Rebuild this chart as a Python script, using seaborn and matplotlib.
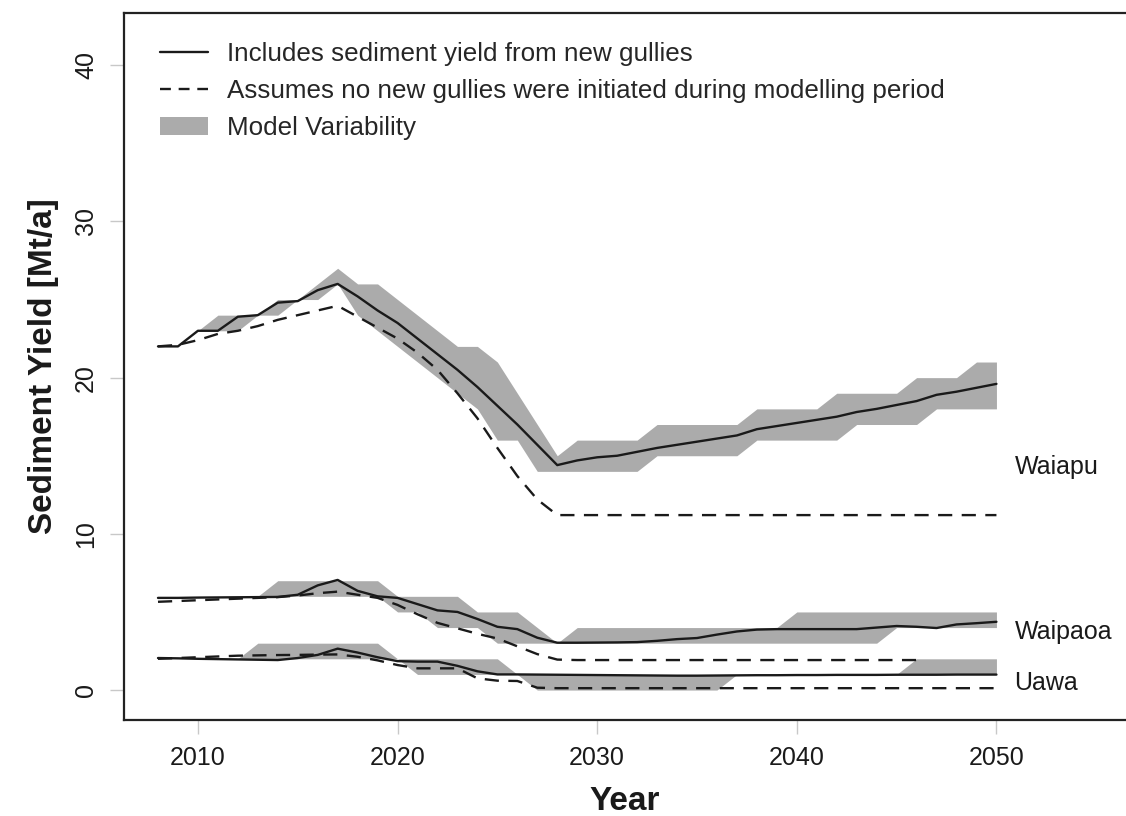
import numpy as np
import pandas as pd
import matplotlib
matplotlib.use("Agg")
import matplotlib.pyplot as plt
from matplotlib.lines import Line2D
from matplotlib.patches import Patch
import seaborn as sns

# =========================
# DATA
# =========================

years = list(range(2008, 2051))

waiapu_new = [22.0, 22.0, 23.0, 23.0, 23.9, 24.0, 24.8, 24.9, 25.6, 26.0,
              25.2, 24.3, 23.5, 22.5, 21.5, 20.5, 19.4, 18.2, 17.0, 15.7,
              14.4, 14.7, 14.9, 15.0, 15.25, 15.5, 15.7, 15.9, 16.1, 16.3,
              16.7, 16.9, 17.1, 17.3, 17.5, 17.8, 18.0, 18.25, 18.5, 18.9,
              19.1, 19.35, 19.6]
waiapu_none = [22.0, 22.1, 22.4, 22.8, 23.0, 23.3, 23.7, 24.0, 24.3, 24.6,
               23.9, 23.2, 22.5, 21.6, 20.5, 19.0, 17.4, 15.5, 13.7, 12.2,
               11.2] + [11.2] * 22
waiapu_low = [22, 22, 23, 23, 23, 24, 24, 25, 25, 26,
              24, 23, 22, 21, 20, 19, 18, 16, 16, 14,
              14, 14, 14, 14, 14, 15, 15, 15, 15, 15,
              16, 16, 16, 16, 16, 17, 17, 17, 17, 18,
              18, 18, 18]
waiapu_high = [22, 22, 23, 24, 24, 24, 25, 25, 26, 27,
               26, 26, 25, 24, 23, 22, 22, 21, 19, 17,
               15, 16, 16, 16, 16, 17, 17, 17, 17, 17,
               18, 18, 18, 18, 19, 19, 19, 19, 20, 20,
               20, 21, 21]

waipaoa_new = [5.9, 5.9, 5.92, 5.93, 5.94, 5.95, 5.96, 6.1, 6.7, 7.05,
               6.35, 6.0, 5.9, 5.5, 5.1, 5.0, 4.55, 4.05, 3.9, 3.35,
               3.03, 3.03, 3.04, 3.05, 3.07, 3.15, 3.26, 3.33, 3.55, 3.75,
               3.87, 3.9, 3.9, 3.9, 3.9, 3.9, 4.0, 4.1, 4.05, 3.97,
               4.2, 4.28, 4.37]
waipaoa_none = [5.65, 5.7, 5.75, 5.8, 5.85, 5.9, 5.95, 6.05, 6.2, 6.3,
                6.1, 5.9, 5.45, 4.85, 4.3, 3.95, 3.6, 3.3, 2.8, 2.3,
                1.95] + [1.92] * 18 + [np.nan] * 4
waipaoa_low = [6] * 12 + [5, 5, 4, 4, 4, 3, 3, 3] + [3] * 17 + [4] * 6
waipaoa_high = [6] * 6 + [7] * 6 + [6, 6, 6, 6, 5, 5, 5, 4, 3] + [4] * 11 + [5] * 11

uawa_new = [2.05, 2.03, 2.0, 1.98, 1.96, 1.94, 1.92, 2.05, 2.25, 2.65,
            2.4, 2.1, 1.85, 1.82, 1.82, 1.55, 1.2, 1.0, 1.0, 0.99,
            0.98, 0.97, 0.96, 0.95, 0.94, 0.93, 0.92, 0.92, 0.93, 0.94,
            0.95, 0.95, 0.96, 0.96, 0.97, 0.97, 0.97, 0.98, 0.98, 0.98,
            0.99, 0.99, 0.99]
uawa_none = [2.0, 2.05, 2.1, 2.15, 2.2, 2.22, 2.24, 2.25, 2.27, 2.28,
             2.13, 1.9, 1.6, 1.39, 1.39, 1.39, 0.75, 0.6, 0.58, 0.15] + [0.12] * 23
uawa_low = [2] * 13 + [1] * 6 + [0] * 10 + [1] * 14
uawa_high = [2] * 5 + [3] * 7 + [2] * 6 + [1] * 20 + [2] * 5

rivers = ["Waiapu", "Waipaoa", "Uawa"]
label_y = [14.3, 3.7, 0.45]

new_series = [waiapu_new, waipaoa_new, uawa_new]
none_series = [waiapu_none, waipaoa_none, uawa_none]
low_series = [waiapu_low, waipaoa_low, uawa_low]
high_series = [waiapu_high, waipaoa_high, uawa_high]

# long format for seaborn
frames = []
for river, s_new, s_none in zip(rivers, new_series, none_series):
    frames.append(pd.DataFrame({"year": years, "value": s_new,
                                "river": river, "scenario": "new"}))
    frames.append(pd.DataFrame({"year": years, "value": s_none,
                                "river": river, "scenario": "none"}))
df = pd.concat(frames, ignore_index=True).dropna()

# =========================
# PLOT
# =========================

sns.set_theme(style="white")
plt.rcParams['font.family'] = ['Liberation Sans', 'DejaVu Sans']

band_color = "#ababab"
ink = "#1a1a1a"

fig = plt.figure(figsize=(11.26, 8.16), dpi=100)
ax = fig.add_axes([0.110, 0.1176, 0.89, 0.8664])

for low, high in zip(low_series, high_series):
    ax.fill_between(years, low, high, color=band_color, linewidth=0, zorder=1)

sns.lineplot(data=df, x="year", y="value", units="river", style="scenario",
             estimator=None, color=ink, linewidth=1.7,
             dashes={"new": "", "none": (6, 4)}, legend=False, ax=ax, zorder=3)

for river, ypos in zip(rivers, label_y):
    ax.text(2050.9, ypos, river, fontsize=18, color=ink, va="center", ha="left")

ax.set_xlim(2006.29, 2056.49)
ax.set_ylim(-1.92, 43.34)
ax.set_xticks([2010, 2020, 2030, 2040, 2050])
ax.set_yticks([0, 10, 20, 30, 40])

ax.tick_params(axis="both", bottom=True, left=True, length=10, width=1,
               color="#c8c8c8", labelsize=18, labelcolor=ink, pad=8.5,
               direction="out")
plt.setp(ax.get_yticklabels(), rotation=90, va="center")

for side in ["left", "bottom", "top"]:
    ax.spines[side].set_color("#222222")
    ax.spines[side].set_linewidth(1.6)
ax.spines["right"].set_visible(False)

ax.set_xlabel("Year", fontsize=24, fontweight="bold", color=ink, labelpad=12)
ax.set_ylabel("Sediment Yield [Mt/a]", fontsize=24, fontweight="bold",
              color=ink, labelpad=11)

handles = [
    Line2D([], [], color=ink, linewidth=1.7),
    Line2D([], [], color=ink, linewidth=1.7, linestyle=(0, (4.6, 3.3))),
    Patch(facecolor=band_color, edgecolor="none"),
]
labels = [
    "Includes sediment yield from new gullies",
    "Assumes no new gullies were initiated during modelling period",
    "Model Variability",
]
ax.legend(handles, labels, loc="upper left", bbox_to_anchor=(0.036, 0.959),
          frameon=False, fontsize=18.7, handlelength=1.85, handleheight=0.7,
          handletextpad=0.75, labelspacing=0.5, borderpad=0, borderaxespad=0)

fig.savefig("out.png", dpi=100)
